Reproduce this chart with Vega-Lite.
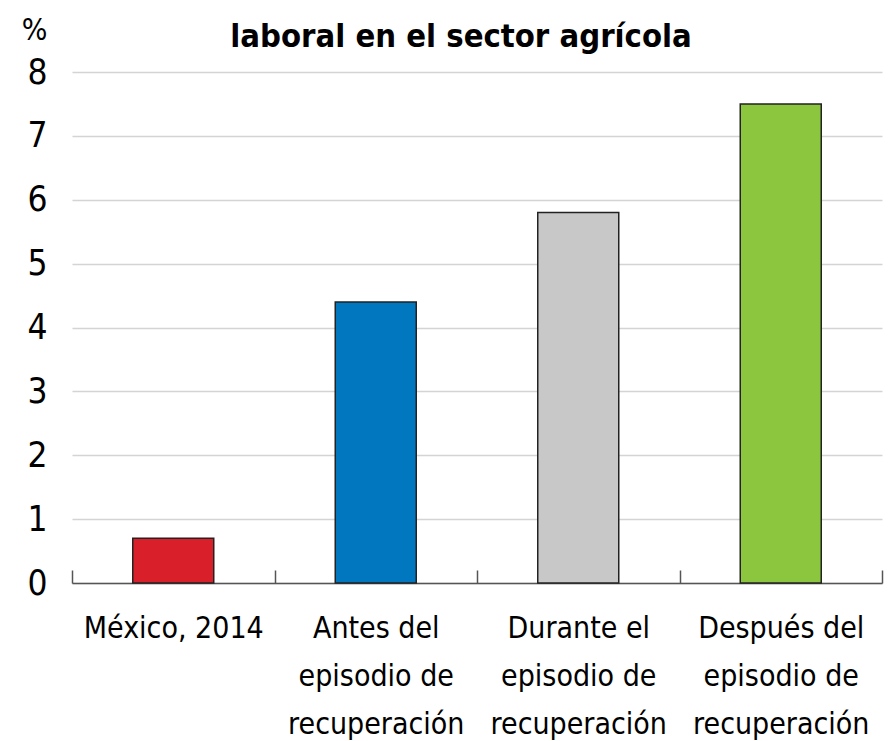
{
  "$schema": "https://vega.github.io/schema/vega-lite/v6.json",
  "width": 810,
  "height": 511,
  "autosize": {"type": "none"},
  "padding": {"left": 72, "top": 72, "right": 13, "bottom": 158},
  "background": "white",
  "title": {
    "text": "laboral en el sector agrícola",
    "font": "DejaVu Sans Condensed, sans-serif",
    "fontSize": 32.5,
    "fontWeight": "bold",
    "color": "#000000",
    "anchor": "middle",
    "frame": "group",
    "baseline": "alphabetic",
    "dx": -16,
    "dy": 28,
    "offset": -36
  },
  "data": {
    "values": [
      {"grupo": "México, 2014", "valor": 0.7},
      {"grupo": "Antes del|episodio de|recuperación", "valor": 4.4},
      {"grupo": "Durante el|episodio de|recuperación", "valor": 5.8},
      {"grupo": "Después del|episodio de|recuperación", "valor": 7.5}
    ]
  },
  "config": {
    "view": {"stroke": null},
    "font": "DejaVu Sans Condensed, sans-serif"
  },
  "mark": {"type": "bar", "stroke": "#222222", "strokeWidth": 1.5, "width": {"band": 0.4}},
  "encoding": {
    "x": {
      "field": "grupo",
      "type": "nominal",
      "sort": null,
      "scale": {"paddingInner": 0, "paddingOuter": 0},
      "axis": {
        "title": null,
        "labelAngle": 0,
        "labelExpr": "split(datum.label, '|')",
        "labelFont": "DejaVu Sans Condensed, sans-serif",
        "labelFontSize": 30,
        "labelColor": "#000000",
        "labelLineHeight": 48,
        "labelPadding": 43,
        "labelLimit": 300,
        "domainColor": "#555555",
        "domainWidth": 1.5,
        "tickColor": "#555555",
        "tickWidth": 1.5,
        "tickSize": -13,
        "tickBand": "extent"
      }
    },
    "y": {
      "field": "valor",
      "type": "quantitative",
      "scale": {"domain": [0, 8], "nice": false},
      "axis": {
        "values": [0, 1, 2, 3, 4, 5, 6, 7, 8],
        "title": "%",
        "titleAngle": 0,
        "titleAlign": "right",
        "titleBaseline": "alphabetic",
        "titleX": -25,
        "titleY": -33,
        "titleFont": "DejaVu Sans Condensed, sans-serif",
        "titleFontSize": 30,
        "titleFontWeight": "normal",
        "titleColor": "#000000",
        "labelFont": "DejaVu Sans Condensed, sans-serif",
        "labelFontSize": 35,
        "labelColor": "#000000",
        "labelPadding": 25,
        "ticks": false,
        "domain": false,
        "grid": true,
        "gridColor": "#d4d4d4",
        "gridWidth": 1.5
      }
    },
    "color": {
      "field": "grupo",
      "type": "nominal",
      "legend": null,
      "scale": {
        "domain": ["México, 2014", "Antes del|episodio de|recuperación", "Durante el|episodio de|recuperación", "Después del|episodio de|recuperación"],
        "range": ["#d9202a", "#0077be", "#c8c8c8", "#8cc63f"]
      }
    }
  }
}
